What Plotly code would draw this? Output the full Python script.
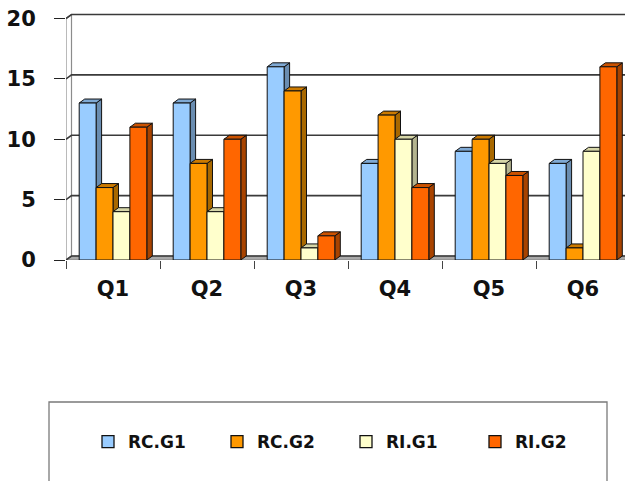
import plotly.graph_objects as go

# Survey scores per question, four groups
categories = ["Q1", "Q2", "Q3", "Q4", "Q5", "Q6"]
rc_g1 = [13, 13, 16, 8, 9, 8]
rc_g2 = [6, 8, 14, 12, 10, 1]
ri_g1 = [4, 4, 1, 10, 8, 9]
ri_g2 = [11, 10, 2, 6, 7, 16]
y_ticks = [0, 5, 10, 15, 20]

series = [
    ("RC.G1", rc_g1, "#99CCFF", "#6A8DB1", "#7FA9D4"),
    ("RC.G2", rc_g2, "#FF9900", "#A86800", "#CC7A00"),
    ("RI.G1", ri_g1, "#FFFFCC", "#B4B48F", "#D6D6A8"),
    ("RI.G2", ri_g2, "#FF6600", "#A84300", "#CC5200"),
]

# geometry of the pseudo-3D view (data units)
X_MAX = 559 / 94          # visible span of the category axis
Y_MAX = 20.54
PX_X = 94.0               # pixels per category
PX_Y = 248 / Y_MAX        # pixels per value unit
DX = 5.5 / PX_X           # depth offset to the right
DY = 4.0 / PX_Y           # depth offset upward
BAR_W = 16.9 / PX_X

fig = go.Figure()

def poly_trace(polys, fill, line_color, line_width=1.0):
    xs, ys = [], []
    for p in polys:
        for (x, y) in p + [p[0]]:
            xs.append(x)
            ys.append(y)
        xs.append(None)
        ys.append(None)
    return go.Scatter(x=xs, y=ys, mode="lines", fill="toself", fillcolor=fill,
                      line=dict(color=line_color, width=line_width),
                      showlegend=False, hoverinfo="skip")

# floor and left wall
fig.add_trace(poly_trace([[(0, 0), (DX, DY), (X_MAX + 1, DY), (X_MAX + 1, 0)]],
                         "#A9A9A9", "#808080"))
fig.add_trace(poly_trace([[(0, 0), (DX, DY), (DX, y_ticks[-1] + DY), (0, y_ticks[-1])]],
                         "#FFFFFF", "#8C8C8C", 1.2))

# gridlines on the back wall, joined to the front axis through the left wall
gx, gy = [], []
for v in y_ticks:
    gx += [0, DX, X_MAX + 1, None]
    gy += [v, v + DY, v + DY, None]
fig.add_trace(go.Scatter(x=gx, y=gy, mode="lines", line=dict(color="#3A3A3A", width=1.6),
                         showlegend=False, hoverinfo="skip"))

# bars: front, side and top faces, series drawn left to right
n = len(series)
for k, (name, vals, c_front, c_side, c_top) in enumerate(series):
    fronts, sides, tops = [], [], []
    for i, v in enumerate(vals):
        x0 = i + 0.5 + (k - n / 2) * BAR_W
        x1 = x0 + BAR_W
        fronts.append([(x0, 0), (x1, 0), (x1, v), (x0, v)])
        sides.append([(x1, 0), (x1 + DX, DY), (x1 + DX, v + DY), (x1, v)])
        tops.append([(x0, v), (x1, v), (x1 + DX, v + DY), (x0 + DX, v + DY)])
    fig.add_trace(poly_trace(sides, c_side, "#111111"))
    fig.add_trace(poly_trace(tops, c_top, "#111111"))
    fig.add_trace(poly_trace(fronts, c_front, "#111111"))

# legend entries
for name, vals, c_front, c_side, c_top in series:
    fig.add_trace(go.Bar(x=[None], y=[None], name=name,
                         marker=dict(color=c_front, line=dict(color="#111111", width=1.3))))

# legend frame
fig.add_shape(type="rect", xref="paper", yref="paper",
              x0=(49 - 66) / 559, x1=(607 - 66) / 559,
              y0=(260 - 492) / 248, y1=(260 - 402) / 248,
              line=dict(color="#7A7A7A", width=1.3), fillcolor="rgba(0,0,0,0)")

font_bold = dict(family="DejaVu Sans", size=21, color="#111111", weight="bold")

fig.update_layout(
    width=625, height=481,
    margin=dict(l=66, r=0, t=12, b=221, pad=0),
    paper_bgcolor="white", plot_bgcolor="white",
    barmode="overlay",
    xaxis=dict(range=[0, X_MAX], tickmode="array",
               tickvals=[i + 0.5 for i in range(len(categories))], ticktext=categories,
               ticks="", showgrid=False, zeroline=False, showline=False,
               tickfont=font_bold, ticklabelstandoff=14,
               minor=dict(tickmode="array", tickvals=list(range(len(categories) + 1)),
                          ticks="outside", ticklen=8, tickwidth=1, tickcolor="#444444",
                          showgrid=False)),
    yaxis=dict(range=[0, Y_MAX], tickmode="array", tickvals=y_ticks,
               ticks="outside", ticklen=11, tickwidth=1, tickcolor="#222222",
               showgrid=False, zeroline=False, showline=False,
               tickfont=font_bold, ticklabelstandoff=14),
    legend=dict(orientation="h", x=(88 - 66) / 559, xanchor="left",
                y=(260 - 442) / 248, yanchor="middle",
                entrywidth=84, entrywidthmode="pixels",
                font=dict(family="DejaVu Sans", size=17, color="#111111", weight="bold"),
                bgcolor="rgba(0,0,0,0)", borderwidth=0),
)

fig.write_html("out.html")
